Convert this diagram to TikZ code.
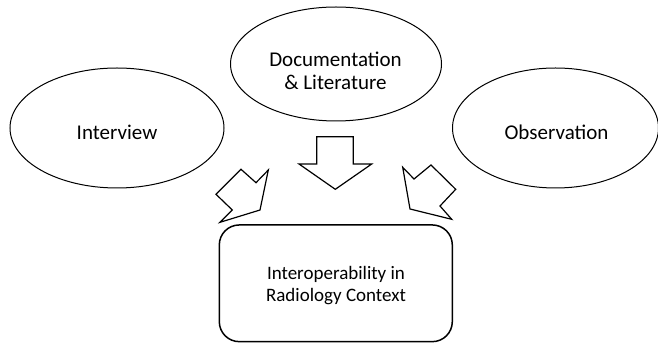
\documentclass[tikz,border=0pt]{standalone}
\usepackage{fontspec}
\setmainfont{Carlito}
\usetikzlibrary{shapes.geometric}
\begin{document}
\begin{tikzpicture}[x=1pt,y=-1pt,
  oval/.style={draw, ellipse, inner sep=0pt, line width=1pt},
  ovaltext/.style={anchor=base, inner sep=0pt, font=\fontsize{21}{23}\selectfont},
  target/.style={draw, rounded corners=20pt, inner sep=0pt, line width=1.5pt},
  targettext/.style={anchor=base, inner sep=0pt, font=\fontsize{19}{22}\selectfont},
  blockarrow/.style={draw, line width=1.2pt, line join=miter, fill=white}]
\useasboundingbox (0,0) rectangle (658,344);
\node[oval, minimum width=211pt, minimum height=114pt] (doc) at (336,64) {};
\node[ovaltext] (doc1) at (335.5,66.7) {Documentation};
\node[ovaltext] (doc2) at (335.5,90) {\& Literature};
\node[oval, minimum width=214pt, minimum height=120pt] (int) at (117,128) {};
\node[ovaltext] (intt) at (117,139.3) {Interview};
\node[oval, minimum width=206pt, minimum height=120pt] (obs) at (555.5,128) {};
\node[ovaltext] (obst) at (556.5,139.3) {Observation};
\node[target, minimum width=233pt, minimum height=116.7pt] (ctx) at (335.8,283.3) {};
\node[targettext] (ctx1) at (336,280) {Interoperability in};
\node[targettext] (ctx2) at (336,301.7) {Radiology Context};
% block arrows
\draw[blockarrow] (316.7,136.7) -- (353.3,136.7) -- (353.3,164) -- (371.7,164) -- (335.3,189.3) -- (299,164) -- (316.7,164) -- cycle;
\draw[blockarrow] (241,169.3) -- (256,182.7) -- (268.3,170) -- (260,210) -- (220,222.3) -- (232.3,210) -- (216,194.3) -- cycle;
\draw[blockarrow] (402.7,167.3) -- (414,179) -- (431,165) -- (455.7,189.3) -- (440,206) -- (451.7,219.3) -- (410,209) -- cycle;
\end{tikzpicture}
\end{document}
